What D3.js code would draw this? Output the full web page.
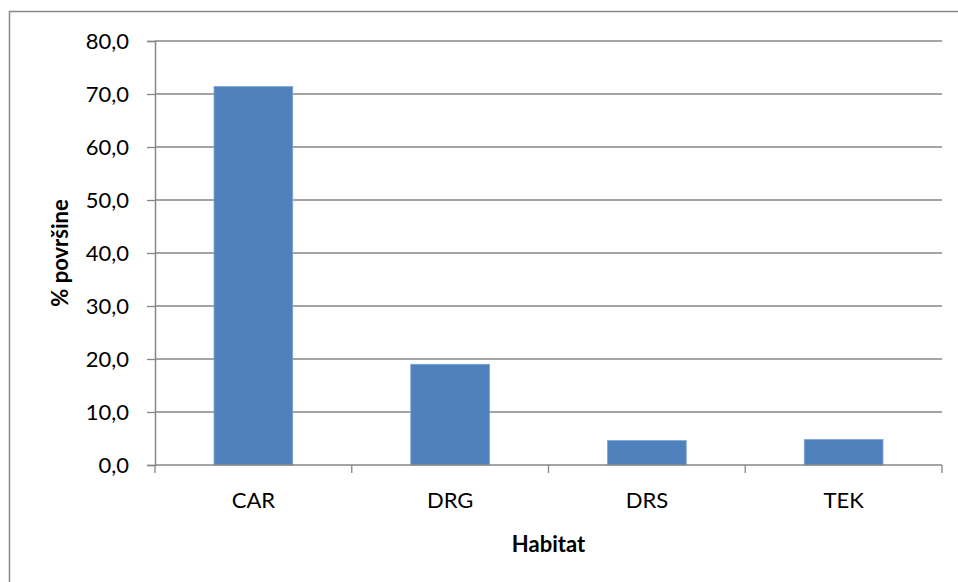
<!DOCTYPE html>
<html>
<head>
<meta charset="utf-8">
<script src="https://cdn.jsdelivr.net/npm/d3@7"></script>
<style>
  html, body { margin: 0; padding: 0; background: #fff; }
  svg { display: block; }
  text { font-family: Lato, "Open Sans", sans-serif; fill: #000; }
</style>
</head>
<body>
<svg id="chart" width="958" height="582"></svg>
<script>
const categories = ["CAR", "DRG", "DRS", "TEK"];
const values = [71.4, 19.0, 4.6, 4.8];
const yTicks = [0, 10, 20, 30, 40, 50, 60, 70, 80];
const xTitle = "Habitat";
const yTitle = "% površine";

const svg = d3.select("#chart");
const plot = { left: 155, right: 942, top: 41, bottom: 465 };
const FONT = "Lato, 'Open Sans', sans-serif";

// outer chart border (right/bottom extend past the image)
svg.append("rect")
  .attr("x", 9.5).attr("y", 11.5)
  .attr("width", 980).attr("height", 600)
  .attr("fill", "#fff").attr("stroke", "#868686").attr("stroke-width", 1.5);

const x = d3.scaleBand().domain(categories).range([plot.left, plot.right]).paddingInner(0.6).paddingOuter(0.3);
const xb = d3.scaleBand().domain(categories).range([plot.left, plot.right]);
const y = d3.scaleLinear().domain([0, 80]).range([plot.bottom, plot.top]);

const fmt = v => d3.format(".1f")(v).replace(".", ",");

// gridlines
svg.append("g").selectAll("line").data(yTicks.filter(d => d > 0)).join("line")
  .attr("x1", plot.left).attr("x2", plot.right)
  .attr("y1", d => y(d)).attr("y2", d => y(d))
  .attr("stroke", "#868686").attr("stroke-width", 1.3);

// bars
svg.append("g").selectAll("rect").data(categories).join("rect")
  .attr("x", d => x(d))
  .attr("width", x.bandwidth())
  .attr("y", (d, i) => y(values[i]))
  .attr("height", (d, i) => y(0) - y(values[i]))
  .attr("fill", "#4f81bd")
  .attr("stroke", "#7ea3d1").attr("stroke-width", 0.8);

// y axis
const yAxis = d3.axisLeft(y).tickValues(yTicks).tickFormat(fmt).tickSize(8).tickPadding(18);
const gy = svg.append("g").attr("transform", `translate(${plot.left},0)`).call(yAxis);
gy.select(".domain").attr("stroke", "#868686").attr("stroke-width", 1.5);
gy.selectAll(".tick line").attr("stroke", "#868686").attr("stroke-width", 1.3);
gy.selectAll(".tick text").style("font-size", "22px").style("font-family", FONT);

// x axis
const xAxis = d3.axisBottom(xb).tickSize(0).tickPadding(0);
const gx = svg.append("g").attr("transform", `translate(0,${plot.bottom})`).call(xAxis);
gx.select(".domain").remove();
gx.append("line").attr("x1", plot.left).attr("x2", plot.right).attr("y1", 0).attr("y2", 0)
  .attr("stroke", "#868686").attr("stroke-width", 1.5);
const bounds = categories.map(c => xb(c)).concat([xb(categories[categories.length - 1]) + xb.bandwidth()]);
gx.selectAll(".bound").data(bounds).join("line").attr("class", "bound")
  .attr("x1", d => d).attr("x2", d => d).attr("y1", 0).attr("y2", 8)
  .attr("stroke", "#868686").attr("stroke-width", 1.3);
gx.selectAll(".tick text").attr("y", 43).attr("dy", null)
  .style("font-size", "22px").style("font-family", FONT);

// axis titles
svg.append("text").attr("x", (plot.left + plot.right) / 2).attr("y", 552)
  .attr("text-anchor", "middle").style("font-size", "22px").style("font-weight", "bold")
  .text(xTitle);
svg.append("text").attr("transform", `translate(68,${(plot.top + plot.bottom) / 2}) rotate(-90)`)
  .attr("text-anchor", "middle").style("font-size", "22px").style("font-weight", "bold")
  .text(yTitle);
</script>
</body>
</html>
